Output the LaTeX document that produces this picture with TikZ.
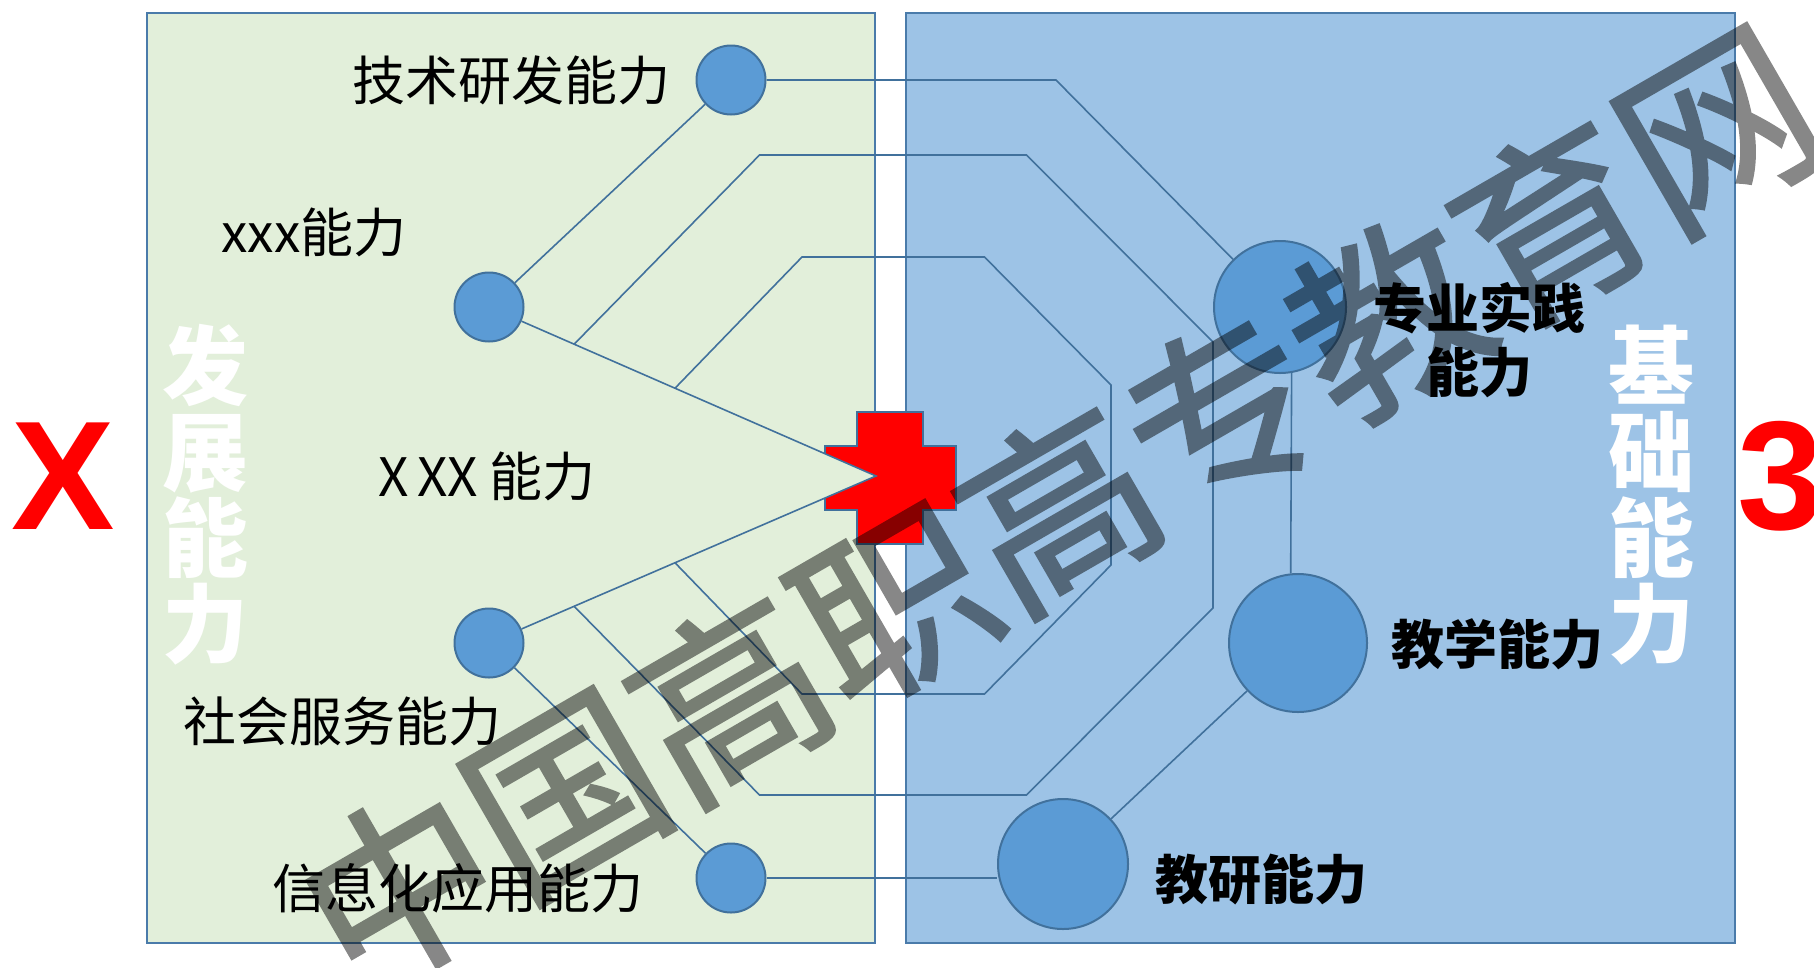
\documentclass[tikz,border=0pt]{standalone}
\usepackage{fontspec}
\setmainfont{Noto Sans CJK SC}
\newfontfamily\latinfont{Liberation Sans}
\newfontfamily\wmfont{Noto Sans CJK SC}[FakeBold=1.5]
\usetikzlibrary{calc}
\definecolor{leftgreen}{HTML}{E2EFDA}
\definecolor{rightblue}{HTML}{9DC3E6}
\definecolor{lineblue}{HTML}{41719C}
\definecolor{boxblue}{HTML}{4A7BAA}
\definecolor{dotblue}{HTML}{5B9BD5}
\pgfdeclarelayer{bg}
\pgfdeclarelayer{mid}
\pgfdeclarelayer{fg}
\pgfsetlayers{bg,mid,main,fg}
\begin{document}
\begin{tikzpicture}[x=1pt,y=-1pt,
  conn/.style={draw=lineblue, line width=1.6pt},
  dot/.style={circle, fill=dotblue, draw=lineblue, line width=2pt, inner sep=0pt},
  lbl/.style={font=\fontsize{53}{60}\selectfont, text=black, inner sep=0pt},
  blbl/.style={font=\fontsize{53}{64}\selectfont\bfseries, text=black, inner sep=0pt, align=center},
  vlbl/.style={font=\fontsize{86}{86}\selectfont\bfseries, text=white, inner sep=0pt, align=center},
  bigred/.style={font=\fontsize{155}{155}\selectfont\latinfont\bfseries, text=red, inner sep=0pt},
  panel/.style={draw=boxblue, line width=2.2pt}]
\useasboundingbox (0,0) rectangle (1814,967);

\begin{pgfonlayer}{bg}
  \fill[white] (0,0) rectangle (1814,967);
  \draw[panel, fill=leftgreen] (147,13) rectangle (875,943);
  \draw[panel, fill=rightblue] (906,13) rectangle (1735,943);
\end{pgfonlayer}

% circles
\node[dot, minimum size=69pt] (jsyf) at (731,80) {};
\node[dot, minimum size=69pt] (xxx) at (489,307) {};
\node[dot, minimum size=69pt] (shfw) at (489,643) {};
\node[dot, minimum size=69pt] (xxh) at (731,878) {};
\node[dot, minimum size=132pt] (zysj) at (1280,307) {};
\node[dot, minimum size=138pt] (jx) at (1298,643) {};
\node[dot, minimum size=130pt] (jy) at (1063,864) {};

\coordinate (apex) at (876,476);
\coordinate (b2a) at ($(xxx)!0.22!(apex)$);
\coordinate (b2b) at ($(shfw)!0.22!(apex)$);
\coordinate (b3a) at ($(xxx)!0.4806!(apex)$);
\coordinate (b3b) at ($(shfw)!0.4806!(apex)$);
\coordinate (c1) at (1056,80);
\coordinate (c2a) at (759.5,155);
\coordinate (c2b) at (1026.5,155);
\coordinate (c2c) at (1213,342);
\coordinate (c2d) at (1213,608);
\coordinate (c2e) at (1026.5,795);
\coordinate (c2f) at (759.5,795);
\coordinate (c3a) at (802,257);
\coordinate (c3b) at (984.5,257);
\coordinate (c3c) at (1111,385);
\coordinate (c3d) at (1111,565);
\coordinate (c3e) at (984.5,694);
\coordinate (c3f) at (802,694);

\begin{pgfonlayer}{mid}
  \draw[conn] (jsyf.east) -- (c1) -- (zysj);
  \draw[conn] (b2a) -- (c2a) -- (c2b) -- (c2c) -- (c2d) -- (c2e) -- (c2f) -- (b2b);
  \draw[conn] (b3a) -- (c3a) -- (c3b) -- (c3c) -- (c3d) -- (c3e) -- (c3f) -- (b3b);
  \draw[conn] (jsyf) -- (xxx);
  \draw[conn] (shfw) -- (xxh);
  \draw[conn] (xxh.east) -- (xxh.east -| jy.west);
  \draw[conn] (zysj.-80.5) -- (jx.96.2);
  \draw[conn] (jx) -- (jy);
  % red cross
  \draw[fill=red, draw=lineblue, line width=2pt]
    (857,412) -- (923,412) -- (923,446) -- (956,446) -- (956,510) -- (923,510)
    -- (923,544) -- (857,544) -- (857,510) -- (825,510) -- (825,446) -- (857,446) -- cycle;
  % wedge
  \fill[leftgreen] (xxx.center) -- (apex) -- (shfw.center) -- cycle;
  \draw[conn] (xxx) -- (apex) -- (shfw);
\end{pgfonlayer}

% labels
\node[lbl] (t1) at (511,80) {技术研发能力};
\node[lbl] (t2) at (314,232) {xxx能力};
\node[lbl] (t3) at (487,476) {X\,XX 能力};
\node[lbl] (t4) at (342,721) {社会服务能力};
\node[lbl] (t5) at (458,888) {信息化应用能力};
\node[blbl] (t6) at (1479,340) {专业实践\\能力};
\node[blbl] (t7) at (1497,644) {教学能力};
\node[blbl] (t8) at (1261,880) {教研能力};
\node[vlbl] (t9) at (205,495) {发\\展\\能\\力};
\node[vlbl] (t10) at (1651,495) {基\\础\\能\\力};
\node[bigred, anchor=base] (t11) at (63,529) {X};
\node[bigred, anchor=base west] (t12) at (1737,529) {3};

\begin{pgfonlayer}{fg}
  \begin{scope}[transparency group, opacity=0.47]
    \node[font=\fontsize{190}{190}\selectfont\wmfont, text=black, rotate=30, inner sep=0pt] (wm) at (1058,508) {中国高职高专教育网};
  \end{scope}
\end{pgfonlayer}
\end{tikzpicture}
\end{document}
